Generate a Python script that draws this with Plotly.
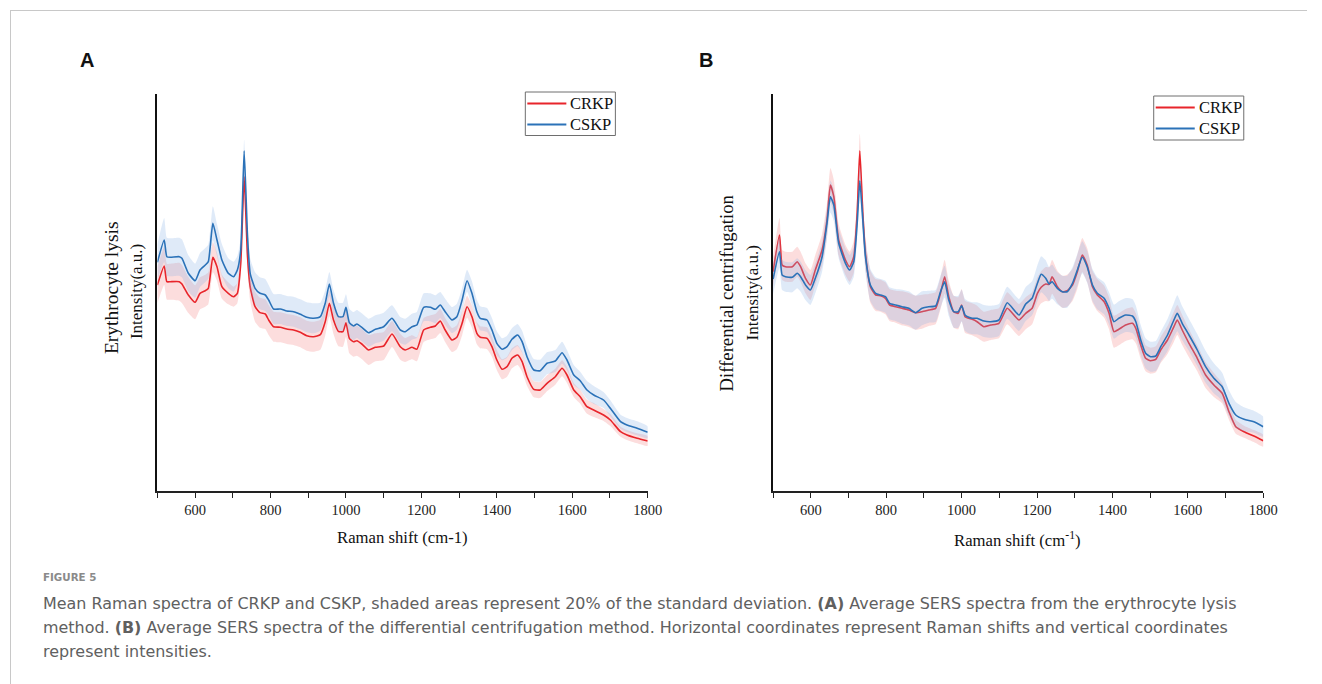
import plotly.graph_objects as go

# ---------------- Panel A : erythrocyte lysis ----------------
wn_a = [500, 518, 525, 534, 558, 565, 582, 600, 613, 627,
        635, 647, 658, 671, 688, 702, 712, 721, 730, 739,
        746, 759, 772, 786, 795, 808, 826, 843, 861, 879,
        896, 914, 932, 945, 956, 967, 980, 992, 1000, 1009,
        1020, 1029, 1042, 1060, 1078, 1100, 1122, 1144,
        1157, 1175, 1188, 1206, 1224, 1237, 1250, 1263, 1281, 1294,
        1308, 1321, 1334, 1347, 1356, 1374, 1387, 1400, 1414, 1427,
        1440, 1455, 1467, 1480, 1498, 1515, 1533, 1555, 1573, 1586,
        1604, 1621, 1639, 1657, 1683, 1701, 1728, 1745, 1772, 1800]

cskp_a = [228.7, 251, 234.3, 233.7, 234.3, 232.7, 217.7, 210.3, 221, 226,
          229.3, 267.7, 251, 231, 217.7, 214.3, 221, 241, 340.3, 254.3,
          217.7, 202.7, 197.7, 196, 191, 182, 182, 180, 179.3, 176.7,
          173.7, 172.7, 174.3, 187.7, 207, 187.7, 174.3, 174.3, 183.7, 168.3,
          165, 167, 163.7, 158.3, 161.7, 164.3, 172.7, 161,
          159.3, 164.3, 166, 183.7, 183.7, 181.7, 186, 179.3, 171, 174.3,
          191, 210.3, 197.7, 179.3, 172.7, 171, 161, 147.7, 141.7, 144.3,
          151.7, 156, 149.3, 134.3, 121, 120.3, 127.7, 130, 138.3, 131,
          116, 110.3, 101, 96, 91, 82.7, 69.3, 66, 62.7, 58.7]

crkp_a = [206, 225, 209.3, 209.3, 209.3, 207, 196, 188.7, 197.7, 200.3,
          202.7, 233.7, 224.3, 204.3, 197.7, 194.3, 197.7, 227.7, 314.3, 234.3,
          204.3, 184.3, 178.3, 177, 171, 164.3, 163.7, 162, 161, 158.7,
          155.3, 154.3, 156.3, 169.3, 187.7, 171, 159.7, 159.3, 168.3, 152.7,
          149.3, 150.3, 147, 141, 143.7, 145, 157, 144.3,
          141, 143.7, 141.7, 161, 163.7, 165, 170, 161, 151, 153.7,
          167.7, 184.3, 174.3, 157.7, 153.7, 152.7, 144.3, 131, 121.7, 124.3,
          132.7, 136, 129.3, 114.3, 101.7, 101, 107.7, 114.3, 122.7, 116,
          101, 94.3, 84.3, 81, 76, 71, 59.3, 56, 52.7, 50]

sd_cskp_a = [18, 22, 19, 19, 19, 19, 18, 17, 17, 17,
             17, 17, 16, 16, 15, 15, 14, 12, 11, 13,
             15, 16, 16, 16, 15, 15, 15, 15, 15, 15,
             15, 15, 14, 13, 12, 13, 14, 14, 13, 14,
             14, 14, 14, 14, 14, 14, 13, 13,
             13, 13, 13, 14, 14, 14, 13, 13, 13, 13,
             12, 11, 12, 12, 12, 12, 12, 12, 11, 11,
             11, 11, 11, 11, 11, 11, 11, 11, 11, 10,
             10, 9, 9, 9, 8, 8, 7, 7, 7, 6]

sd_crkp_a = [18, 19, 18, 18, 19, 19, 18, 17, 16, 16,
             16, 15, 14, 12, 11, 10, 10, 11, 12, 13,
             14, 15, 15, 15, 15, 15, 15, 15, 15, 15,
             15, 15, 15, 14, 13, 14, 15, 15, 14, 15,
             15, 15, 15, 15, 14, 14, 13, 13,
             12, 12, 12, 12, 12, 12, 12, 12, 12, 12,
             12, 11, 11, 11, 11, 11, 10, 10, 10, 10,
             10, 10, 10, 9, 8, 8, 8, 8, 8, 8,
             7, 7, 7, 7, 6, 6, 5, 5, 5, 5]

# ---------------- Panel B : differential centrifugation ----------------
wn_b = [500, 517, 524, 533, 551, 564, 573, 586, 599, 612,
        630, 643, 652, 661, 674, 692, 703, 714, 723, 730,
        738, 745, 758, 772, 785, 798, 809, 825, 842, 860,
        878, 895, 913, 931, 944, 955, 966, 979, 991, 1000,
        1009, 1019, 1028, 1041, 1059, 1077, 1099, 1121,
        1152, 1170, 1187, 1201, 1211, 1223, 1232, 1240, 1254, 1267,
        1280, 1294, 1307, 1320, 1333, 1347, 1360, 1378, 1391, 1404,
        1417, 1435, 1453, 1462, 1475, 1488, 1501, 1515, 1528, 1546,
        1563, 1572, 1585, 1603, 1625, 1647, 1669, 1691, 1709, 1727,
        1749, 1775, 1800]

crkp_b = [219.3, 256, 226, 224.3, 224.3, 229.3, 224.3, 212.7, 206, 221,
          241, 271, 306, 294.3, 251, 231, 224.3, 234.3, 277.7, 340.3,
          277.7, 237.7, 204.3, 196, 195.3, 192.7, 186, 184.3, 182.7, 181,
          178.3, 179.3, 181, 182.7, 197.7, 214.3, 194.3, 179.3, 177.7, 186,
          174.3, 172.7, 171.7, 169.3, 164.3, 166, 167.7, 182.7,
          171, 177.7, 182.7, 197.7, 203.7, 207, 206.7, 214.3, 204.3, 199.3,
          200.3, 206, 219.3, 236, 226, 204.3, 196, 189.3, 177.7, 159.3,
          161.7, 166, 167.7, 162.7, 146, 132.7, 130.3, 131.7, 141, 151,
          164.3, 171, 161, 147.7, 132.7, 116, 106, 97.7, 79.3, 64.3,
          59.3, 55, 50.3]

cskp_b = [212, 239.3, 216, 214.3, 213.7, 217.7, 214.3, 206, 201, 212.7,
          234.3, 267.7, 294.3, 286, 247.7, 227.7, 221, 229.3, 267.7, 310.3,
          271, 234.3, 206, 197.7, 196, 194.3, 187.7, 186, 184.3, 182.7,
          178.3, 182.7, 184.3, 185, 199.3, 209.3, 191, 179.3, 179.3, 185.3,
          176, 173.7, 172.7, 172.7, 170, 169.3, 171, 188.3,
          176, 187, 192.7, 207.7, 216.7, 212.7, 207, 209.3, 202.7, 199.3,
          199.3, 207.7, 221, 233.7, 224.3, 206, 197.7, 192.7, 182.7, 169.3,
          172.7, 176, 175, 169.3, 151, 137.7, 134.3, 135, 144.3, 156,
          171, 177.7, 167.7, 156, 141, 124.3, 112.7, 104.3, 87.7, 76,
          71.7, 69.3, 64.3]

sd_crkp_b = [15, 17, 15, 15, 15, 15, 15, 15, 15, 15,
             16, 17, 17, 17, 16, 15, 15, 16, 17, 17,
             16, 16, 16, 16, 16, 16, 16, 16, 17, 17,
             17, 17, 16, 16, 16, 17, 16, 16, 16, 16,
             16, 16, 16, 16, 15, 15, 15, 16,
             16, 16, 16, 16, 16, 17, 17, 17, 16, 16,
             16, 16, 17, 17, 17, 16, 16, 16, 16, 16,
             16, 16, 16, 15, 14, 13, 13, 13, 13, 14,
             15, 15, 15, 14, 13, 13, 12, 10, 8, 7,
             6, 6, 6]

sd_cskp_b = [15, 16, 15, 15, 15, 15, 15, 15, 15, 15,
             15, 16, 16, 16, 15, 15, 15, 15, 16, 16,
             16, 16, 16, 16, 16, 16, 16, 16, 17, 17,
             17, 17, 16, 16, 16, 16, 16, 16, 16, 16,
             16, 16, 16, 16, 16, 16, 16, 16,
             16, 17, 17, 18, 18, 18, 17, 17, 16, 16,
             16, 16, 16, 16, 16, 16, 16, 16, 16, 17,
             17, 17, 17, 16, 15, 15, 15, 15, 15, 16,
             17, 18, 17, 16, 16, 16, 15, 14, 13, 13,
             12, 11, 10]

series_names = ["CRKP", "CSKP"]
line_colors = ["#e8252b", "#2b72b8"]
band_colors = ["rgba(245,120,120,0.25)", "rgba(140,180,230,0.28)"]

x_major = [600, 800, 1000, 1200, 1400, 1600, 1800]
x_minor = [500, 700, 900, 1100, 1300, 1500, 1700]

W, H = 1322, 684
SX = 1.0121  # horizontal correction observed in the rendered screenshot
def px(x):
    return x * SX / W
def py(y):
    return 1 - y / H

fig = go.Figure()

panels = [
    ("x", "y", wn_a, [crkp_a, cskp_a], [sd_crkp_a, sd_cskp_a]),
    ("x2", "y2", wn_b, [crkp_b, cskp_b], [sd_crkp_b, sd_cskp_b]),
]
for xa, ya, wn, means, sds in panels:
    for i in range(2):
        m, s = means[i], sds[i]
        upper = [a + b for a, b in zip(m, s)]
        lower = [a - b for a, b in zip(m, s)]
        fig.add_trace(go.Scatter(
            x=list(wn) + list(wn[::-1]), y=upper + lower[::-1],
            fill="toself", fillcolor=band_colors[i],
            line=dict(width=0, shape="spline", smoothing=0.5),
            mode="lines", hoverinfo="skip", showlegend=False,
            xaxis=xa, yaxis=ya))
        fig.add_trace(go.Scatter(
            x=wn, y=m, mode="lines", name=series_names[i],
            line=dict(color=line_colors[i], width=1.6, shape="spline", smoothing=0.5),
            showlegend=False, xaxis=xa, yaxis=ya))

serif = "Liberation Serif"
ydom = [py(491), py(94.3)]
axis_common = dict(
    range=[500, 1800], showline=True, linecolor="#222", linewidth=2,
    ticks="outside", ticklen=5, tickwidth=1.4, tickcolor="#222",
    tickmode="array", tickvals=x_major,
    minor=dict(tickmode="array", tickvals=x_minor, ticks="outside",
               ticklen=5, tickwidth=1.4, tickcolor="#222"),
    tickfont=dict(family=serif, size=14.5, color="#222"),
    showgrid=False, zeroline=False, fixedrange=True)
yaxis_common = dict(
    range=[0, 396.7], showline=True, linecolor="#111", linewidth=1.6,
    showticklabels=False, ticks="", showgrid=False, zeroline=False,
    fixedrange=True, domain=ydom)

fig.update_layout(
    width=W, height=H, autosize=False,
    margin=dict(l=0, r=0, t=0, b=0),
    paper_bgcolor="white", plot_bgcolor="rgba(0,0,0,0)",
    xaxis=dict(domain=[px(157.3), px(647.3)], anchor="y", **axis_common),
    yaxis=dict(anchor="x", **yaxis_common),
    xaxis2=dict(domain=[px(772.6), px(1262.5)], anchor="y2", **axis_common),
    yaxis2=dict(anchor="x2", **yaxis_common),
    showlegend=False,
)

ann = []
shapes = []
def text(x, y, t, size, family=serif, color="#111", angle=0, xanchor="center"):
    ann.append(dict(x=px(x), y=py(y), xref="paper", yref="paper", text=t,
                    showarrow=False, textangle=angle, xanchor=xanchor,
                    yanchor="middle",
                    font=dict(family=family, size=size, color=color)))

# legends (box, line samples, names)
for (bx0, by0, bx1, by1) in [(525, 92, 615, 135.5), (1153, 96, 1243, 140)]:
    shapes.append(dict(type="rect", xref="paper", yref="paper",
                       x0=px(bx0), x1=px(bx1), y0=py(by0), y1=py(by1),
                       line=dict(color="#6e6e6e", width=1), fillcolor="white"))
    for i in range(2):
        yy = by0 + 11.5 + i * 21
        shapes.append(dict(type="line", xref="paper", yref="paper",
                           x0=px(bx0 + 2), x1=px(bx0 + 41), y0=py(yy), y1=py(yy),
                           line=dict(color=line_colors[i], width=1.8)))
        text(bx0 + 43, yy, series_names[i], 16.5, xanchor="left")

text(87, 60, "<b>A</b>", 20, family="Liberation Sans", color="#111")
text(706, 60, "<b>B</b>", 20, family="Liberation Sans", color="#111")
text(111, 288, "Erythrocyte lysis", 19.5, angle=-90)
text(137, 292, "Intensity(a.u.)", 17, angle=-90)
text(726, 293, "Differential centrifugation", 18.7, angle=-90)
text(752, 293, "Intensity(a.u.)", 17, angle=-90)
text(402, 537, "Raman shift (cm-1)", 16.7)
text(1017, 539, "Raman shift (cm<sup>-1</sup>)", 16.7)

cap_font = "DejaVu Sans"
text(41, 577, "<b>FIGURE 5</b>", 10.3, family=cap_font, color="#8a8a8a", xanchor="left")
text(41, 603, "Mean Raman spectra of CRKP and CSKP, shaded areas represent 20% of the standard deviation. "
     "<b>(A)</b> Average SERS spectra from the erythrocyte lysis", 15.95, family=cap_font, color="#606060", xanchor="left")
text(41, 627, "method. <b>(B)</b> Average SERS spectra of the differential centrifugation method. "
     "Horizontal coordinates represent Raman shifts and vertical coordinates", 15.95, family=cap_font, color="#606060", xanchor="left")
text(41, 651, "represent intensities.", 15.95, family=cap_font, color="#606060", xanchor="left")

shapes += [
    dict(type="line", xref="paper", yref="paper", x0=px(10), x1=1, y0=py(10.5), y1=py(10.5),
         line=dict(color="#c8c8c8", width=1)),
    dict(type="line", xref="paper", yref="paper", x0=px(10.5), x1=px(10.5), y0=py(10), y1=0,
         line=dict(color="#c8c8c8", width=1)),
]

fig.update_layout(annotations=ann, shapes=shapes)

fig.write_html("out.html", config={"responsive": False},
               default_width="1322px", default_height="684px")
